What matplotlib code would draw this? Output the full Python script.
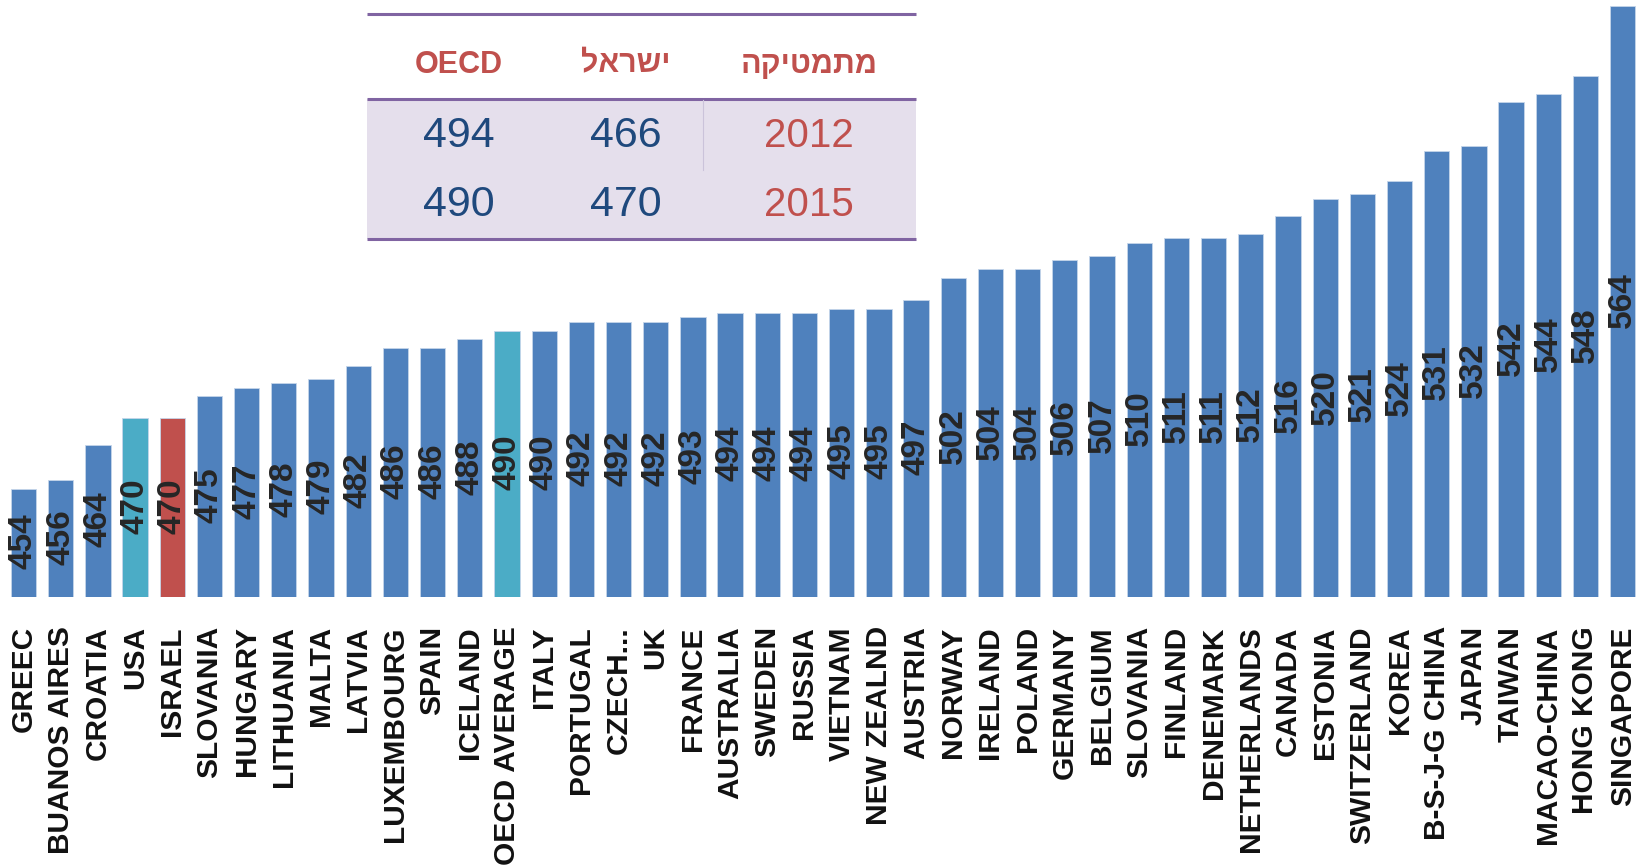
import matplotlib
matplotlib.use("Agg")
import matplotlib.pyplot as plt
from matplotlib.patches import Rectangle

# PISA 2015 mathematics scores, sorted ascending
countries = [
    "GREEC", "BUANOS AIRES", "CROATIA", "USA", "ISRAEL", "SLOVANIA", "HUNGARY",
    "LITHUANIA", "MALTA", "LATVIA", "LUXEMBOURG", "SPAIN", "ICELAND",
    "OECD AVERAGE", "ITALY", "PORTUGAL", "CZECH...", "UK", "FRANCE",
    "AUSTRALIA", "SWEDEN", "RUSSIA", "VIETNAM", "NEW ZEALND", "AUSTRIA",
    "NORWAY", "IRELAND", "POLAND", "GERMANY", "BELGIUM", "SLOVANIA", "FINLAND",
    "DENEMARK", "NETHERLANDS", "CANADA", "ESTONIA", "SWITZERLAND", "KOREA",
    "B-S-J-G CHINA", "JAPAN", "TAIWAN", "MACAO-CHINA", "HONG KONG", "SINGAPORE",
]
scores = [
    454, 456, 464, 470, 470, 475, 477, 478, 479, 482, 486, 486, 488, 490, 490,
    492, 492, 492, 493, 494, 494, 494, 495, 495, 497, 502, 504, 504, 506, 507,
    510, 511, 511, 512, 516, 520, 521, 524, 531, 532, 542, 544, 548, 564,
]
highlight = {"USA": "#4BACC6", "OECD AVERAGE": "#4BACC6", "ISRAEL": "#C0504D"}

# inset table: Israel vs OECD, 2012 and 2015
table_header = ["OECD", "ישראל", "מתמטיקה"]
table_years = ["2012", "2015"]
table_israel = [466, 470]
table_oecd = [494, 490]

BLUE = "#4F81BD"
YMIN, YMAX = 429.3, 565.3
W, H = 1636, 865

plt.rcParams["font.family"] = ["Liberation Sans", "DejaVu Sans"]
fig = plt.figure(figsize=(W / 100, H / 100), dpi=100)
ax = fig.add_axes([0, 1 - 597 / H, 1, 597 / H])

x = list(range(len(countries)))
colors = [highlight.get(c, BLUE) for c in countries]
ax.bar(x, [s - YMIN for s in scores], bottom=YMIN, width=0.68, color=colors,
       edgecolor="#c5d5ea", linewidth=0.6)
for xi, s in zip(x, scores):
    ax.text(xi, (YMIN + s) / 2 + 0.3, str(s), rotation=90, ha="center",
            va="center", fontsize=24, fontweight="bold", color="#262626")

ax.set_xlim(-23.5 / 37.19, (W - 23.5) / 37.19)
ax.set_ylim(YMIN, YMAX)
ax.set_xticks(x)
ax.set_xticklabels(countries, rotation=90, fontsize=21.5, fontweight="bold",
                   color="#111111", va="top")
ax.tick_params(axis="x", length=0, pad=21)
ax.set_yticks([])
for sp in ax.spines.values():
    sp.set_visible(False)

# table overlay in pixel coordinates
tab = fig.add_axes([0, 0, 1, 1], zorder=5)
tab.set_xlim(0, W)
tab.set_ylim(H, 0)
tab.axis("off")
tab.patch.set_alpha(0)

left, right = 367, 916
top, head_line, bottom = 13.6, 99, 239
tab.add_patch(Rectangle((left, head_line), right - left, bottom - head_line,
                        color="#E5DFEC", lw=0))
for yl in (top, head_line, bottom):
    tab.plot([left, right], [yl, yl], color="#8064A2", lw=2.2,
             solid_capstyle="butt")
tab.plot([702.6, 702.6], [head_line + 1, 170], color="#cbc3da", lw=0.8)

col_x = [459, 625.6, 808.7]
for cx, head in zip(col_x, table_header):
    label = head[::-1] if any("\u0590" <= ch <= "\u05ff" for ch in head) else head
    tab.text(cx, 64.7, label, ha="center", va="center", fontsize=22,
             fontweight="bold", color="#C0504D")

for ry, yr, isr, oecd in zip([135.6, 205.5], table_years, table_israel, table_oecd):
    tab.text(col_x[0], ry, str(oecd), ha="center", va="center", fontsize=31,
             color="#1F497D")
    tab.text(col_x[1], ry, str(isr), ha="center", va="center", fontsize=31,
             color="#1F497D")
    tab.text(col_x[2], ry, yr, ha="center", va="center", fontsize=29,
             color="#C0504D")

fig.savefig("out.png", dpi=100)
